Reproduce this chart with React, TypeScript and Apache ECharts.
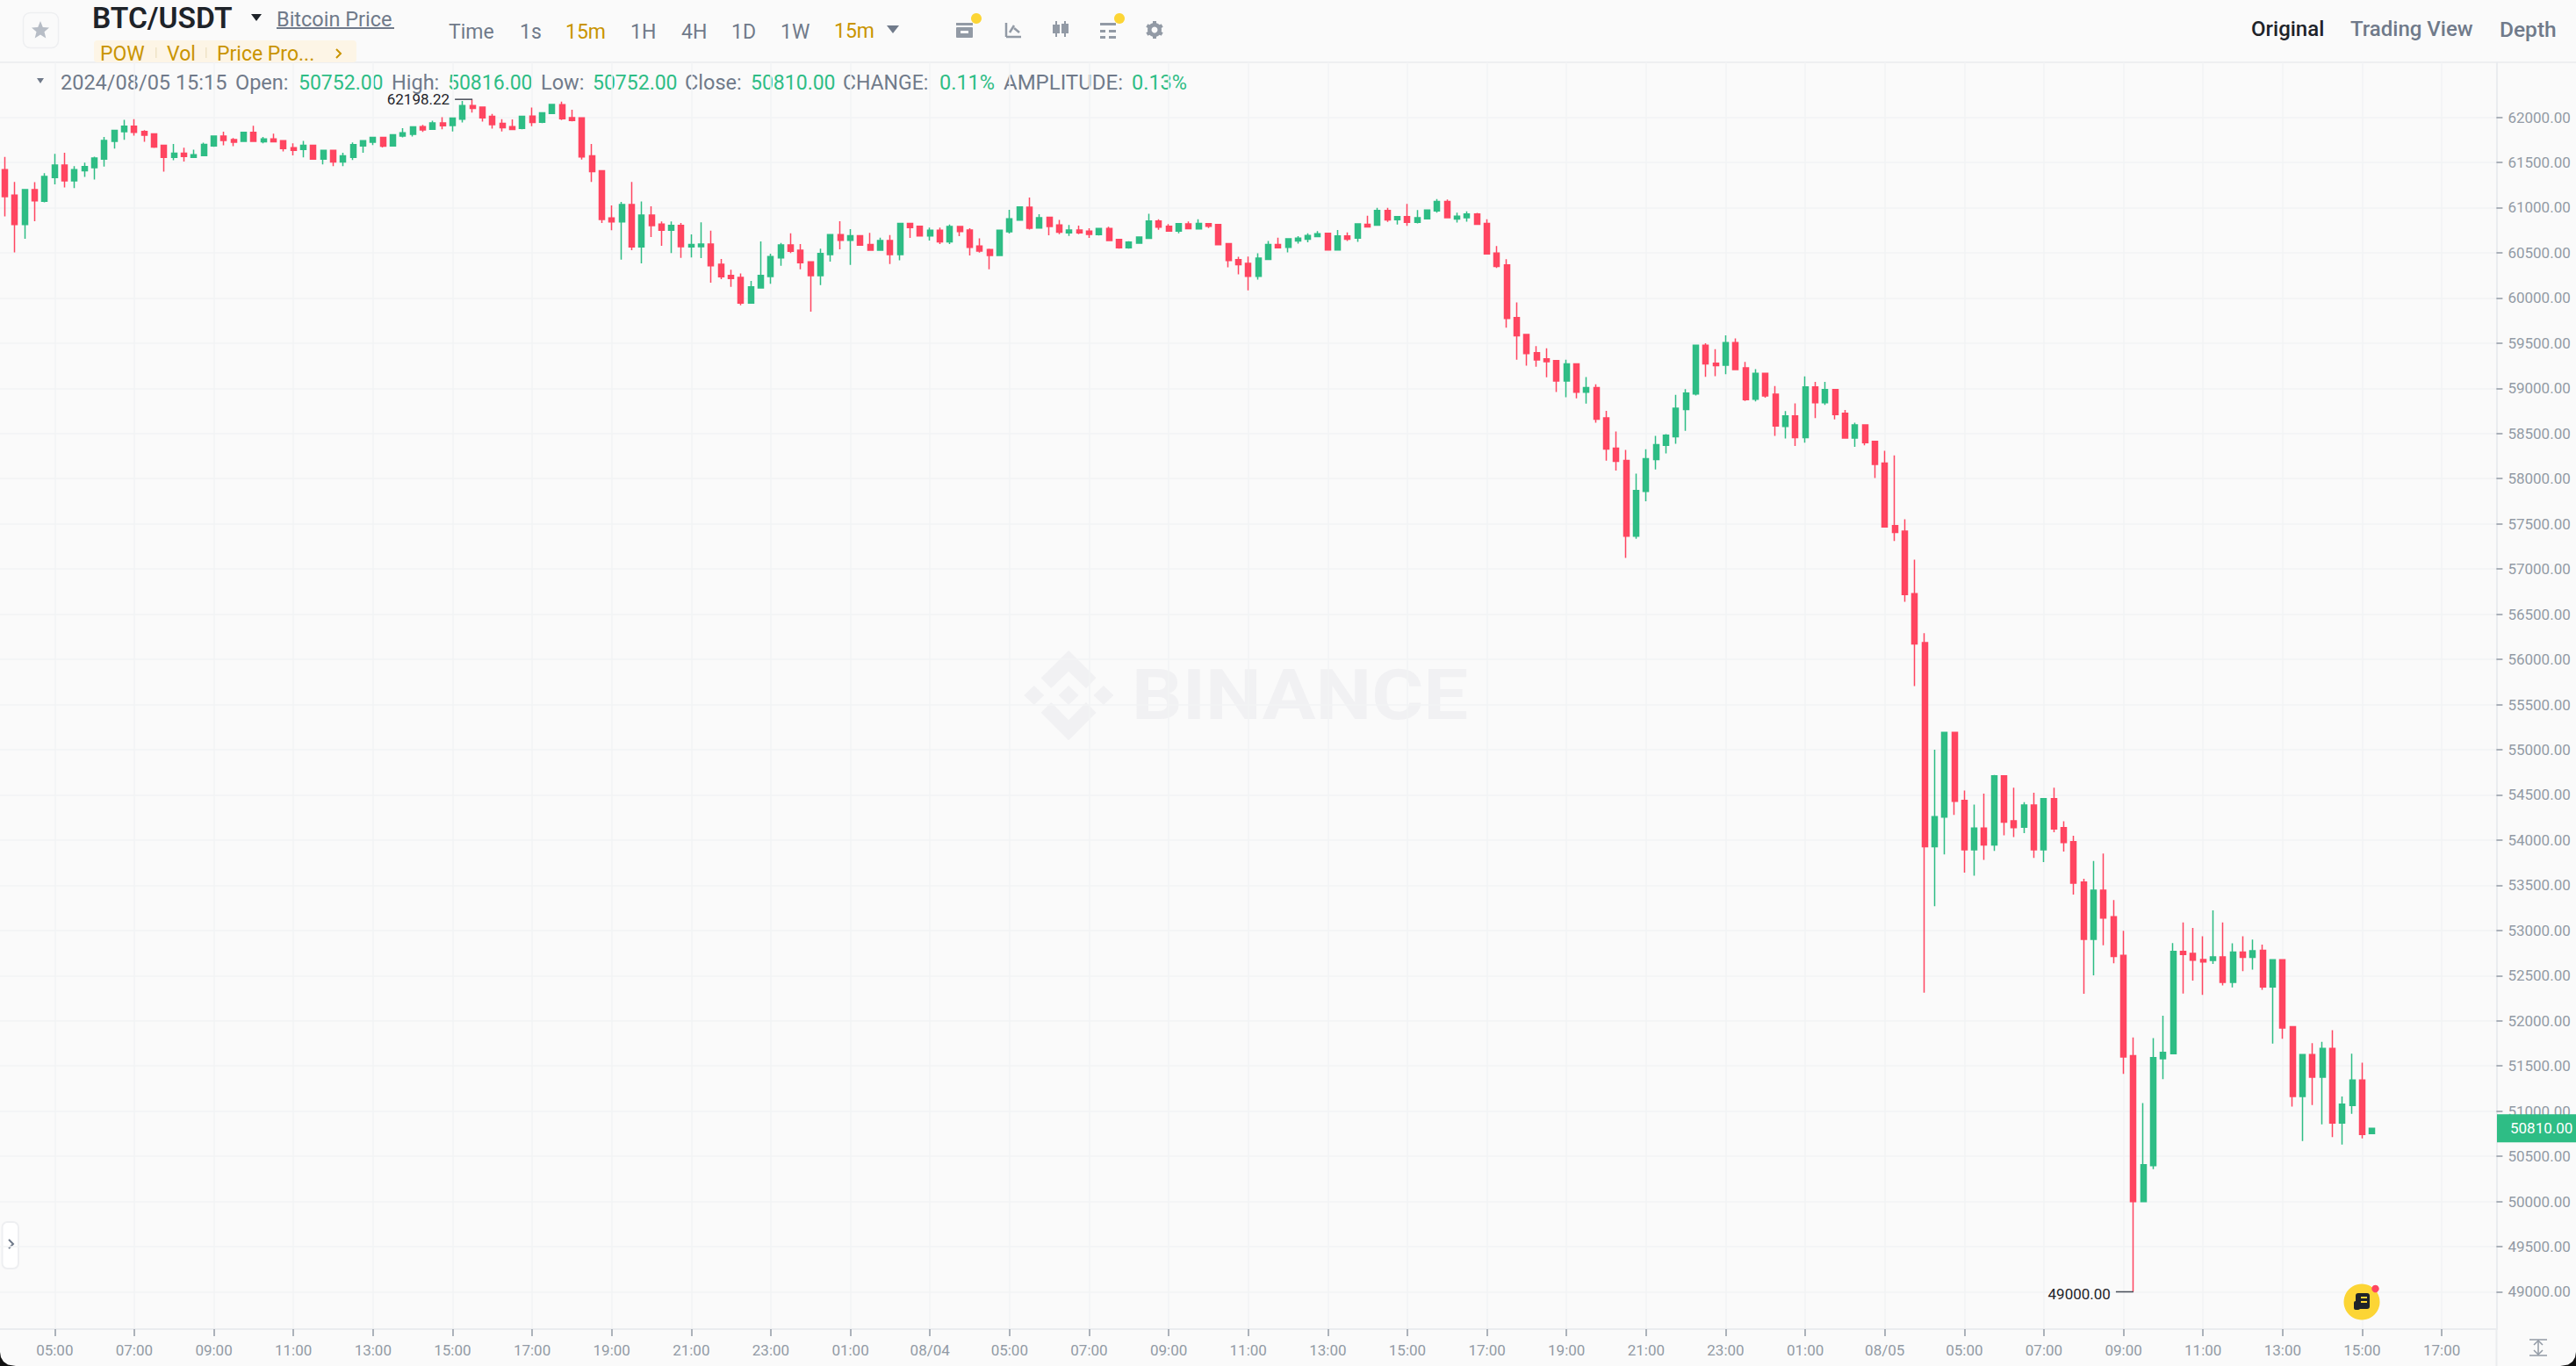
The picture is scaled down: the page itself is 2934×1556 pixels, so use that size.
import React, { useEffect, useRef } from "react";
import * as echarts from "echarts";

const opens = [
  61420,61139,60812,61200,61071,61333,61472,61297,61407,61443,
  61537,61734,61841,61900,61844,61815,61689,61556,61602,61556,
  61576,61683,61793,61754,61734,61832,61728,61760,61741,61663,
  61644,61689,61537,61634,61505,61556,61683,61725,61777,61683,
  61793,61812,61896,61867,61938,61909,61980,62130,62113,62010,
  61932,61896,61877,62013,61945,62042,62139,61997,61994,61573,
  61409,60885,60843,61034,60564,60917,60817,60749,60804,60564,
  60567,60597,60373,60250,60228,59943,60111,60237,60444,60587,
  60529,60399,60247,60480,60700,60639,60690,60593,60529,60635,
  60480,60826,60794,60687,60749,60622,60791,60752,60574,60535,
  60470,60733,60862,61005,60775,60894,60807,60720,60752,60739,
  60700,60768,60648,60555,60606,60661,60852,60794,
  60741,60819,60764,60822,60812,60602,60424,60382,60239,60427,
  60592,60560,60631,60650,60680,60715,60530,60686,60663,60815,
  60806,60968,60867,60900,60838,60877,60964,61068,60874,60887,
  60929,60825,60498,60365,59783,59595,59394,59326,59307,59080,
  59271,58957,59009,58672,58338,58202,57364,57859,58212,58368,
  58465,58766,58937,59478,59277,
  59255,59505,59227,58879,59166,58935,58577,58695,58455,59015,
  58841,58987,58723,58450,58596,58412,58172,57480,57419,56727,
  56186,53926,54255,55192,54439,53893,54133,53945,54712,54213,
  54142,54387,53893,54458,54138,53981,53535,52902,53445,53151,
  52723,51614,49998,50396,51580,51636,52768,52745,52678,52667,
  52708,52425,52760,52701,52779,52373,52675,51934,51163,51625,
  51375,51695,50869,51063,51345,50752,
];
const closes = [
  61122,60812,61200,61074,61346,61472,61297,61420,61453,61550,
  61744,61854,61900,61832,61802,61670,61556,61602,61566,61585,
  61699,61793,61744,61725,61832,61734,61760,61728,61653,61634,
  61689,61537,61634,61505,61573,61696,61741,61777,61679,61806,
  61828,61893,61861,61938,61906,61990,62130,62097,61994,61919,
  61883,61864,62010,61942,62049,62142,61984,61964,61560,61398,
  60869,60843,61034,60564,60917,60801,60749,60804,60567,60593,
  60597,60357,60234,60215,59943,60124,60250,60457,60587,60516,
  60389,60247,60493,60700,60639,60690,60584,60529,60635,60480,
  60826,60778,60687,60749,60622,60791,60736,60561,60519,60470,
  60749,60875,61008,60771,60888,60791,60729,60752,60720,60703,
  60768,60635,60555,60619,60674,60852,60784,60739,
  60822,60767,60825,60793,60589,60414,60369,60239,60440,60592,
  60556,60654,60663,60692,60712,60530,60686,60650,60819,60786,
  60968,60864,60900,60838,60887,60974,61068,60887,60906,60929,
  60815,60488,60349,59773,59582,59384,59313,59294,59080,59271,
  58957,59009,58659,58329,58193,57364,57869,58222,58377,58481,
  58779,58947,59478,59271,59252,
  59505,59208,58874,59166,58916,58582,58695,58455,59015,58841,
  58987,58709,58450,58596,58398,58158,57466,57405,56718,56171,
  53926,54260,55192,54430,53893,54133,53945,54712,54199,54138,
  54387,53893,54458,54124,53973,53523,52902,53445,53136,52712,
  51599,49998,50407,51591,51651,52768,52734,52671,52652,52708,
  52425,52760,52701,52775,52373,52675,51919,51163,51625,51375,
  51695,50869,51077,51345,50742,50810,
];
const lows = [
  60902,60504,60656,60850,61058,61258,61223,61216,61339,61310,
  61453,61653,61751,61796,61728,61660,61398,61524,61511,61553,
  61573,61673,61689,61679,61734,61734,61712,61728,61621,61579,
  61556,61537,61479,61459,61459,61527,61608,61692,61666,61679,
  61777,61786,61838,61864,61867,61844,61942,62052,61951,61874,
  61844,61861,61867,61900,61935,62036,61968,61955,61531,61284,
  60830,60749,60425,60529,60383,60674,60577,60496,60444,60448,
  60441,60169,60208,60124,59920,59943,60108,60156,60357,60496,
  60318,59849,60143,60402,60538,60367,60580,60529,60529,60376,
  60418,60665,60681,60635,60597,60597,60684,60470,60503,60318,
  60467,60713,60859,60758,60771,60694,60707,60687,60707,60665,
  60691,60629,60545,60545,60600,60655,60755,60736,
  60715,60764,60760,60773,60586,60339,60262,60084,60203,60424,
  60556,60505,60602,60615,60676,60527,60527,60631,60621,60780,
  60802,60841,60812,60799,60825,60874,60945,60883,60835,60845,
  60815,60485,60333,59672,59316,59252,59239,59122,58960,58902,
  58889,58831,58620,58199,58089,57124,57335,57749,58102,58280,
  58387,58529,58921,59128,59135,
  59156,59208,58860,58855,58897,58474,58445,58361,58398,58671,
  58817,58657,58450,58351,58370,58008,57466,57311,56638,55705,
  52311,53267,53841,54279,53639,53606,53780,53879,54053,54034,
  54076,53803,53756,54086,53874,53397,52299,52503,52835,52637,
  51412,49000,49998,50359,51353,51636,52302,52444,52287,52630,
  52392,52369,52548,52567,52343,51748,51800,51051,50668,51066,
  50854,50713,50631,50970,50698,50752,
];
const highs = [
  61560,61284,61205,61281,61381,61595,61608,61459,61498,61563,
  61783,61857,61971,61980,61857,61815,61696,61705,61663,61640,
  61718,61799,61841,61770,61835,61906,61783,61819,61741,61712,
  61738,61692,61634,61634,61608,61722,61744,61780,61780,61809,
  61880,61896,61916,61961,62000,61994,62181,62198.22,62113,62036,
  61980,61977,62013,62107,62049,62142,62172,62084,61994,61705,
  61409,61024,61063,61283,61069,61014,60846,60846,60830,60703,
  60836,60746,60431,60312,60270,60189,60626,60490,60610,60716,
  60597,60399,60545,60703,60849,60762,60690,60720,60668,60697,
  60826,60826,60797,60778,60778,60813,60791,60771,60661,60545,
  60749,60975,61008,61111,60927,60898,60865,60807,60801,60771,
  60768,60788,60648,60629,60674,60933,60872,60817,
  60828,60848,60870,60828,60815,60602,60456,60459,60495,60631,
  60666,60657,60683,60715,60741,60722,60751,60725,60825,60909,
  60997,60997,60906,61042,60974,60977,61094,61091,60945,60958,
  60942,60870,60576,60430,59951,59595,59468,59443,59307,59316,
  59271,59125,59044,58750,58523,58319,58057,58325,58474,58494,
  58928,58992,59478,59498,59433,
  59585,59552,59293,59213,59166,59025,58747,58832,59133,59072,
  59072,58987,58761,58620,58596,58412,58309,58257,57551,57104,
  56289,54999,55192,55192,54547,54392,54514,54721,54712,54580,
  54420,54524,54458,54580,54208,54048,53572,53769,53851,53337,
  52995,51815,51089,51807,52057,52861,53088,53028,52935,53222,
  53088,52857,52935,52898,52842,52675,52675,51934,51625,51751,
  51766,51896,51163,51636,51535,50816,
];
const timeTicks = [
  "05:00","07:00","09:00","11:00","13:00","15:00","17:00","19:00","21:00","23:00","01:00","08/04",
  "05:00","07:00","09:00","11:00","13:00","15:00","17:00","19:00","21:00","23:00","01:00","08/05",
  "05:00","07:00","09:00","11:00","13:00","15:00","17:00",
];
const priceTicks = [49000,49500,50000,50500,51000,51500,52000,52500,53000,53500,54000,54500,55000,55500,56000,56500,57000,57500,58000,58500,59000,59500,60000,60500,61000,61500,62000];
const SLOTS = 251;
const HIGH_IDX = 47, HIGH_VAL = 62198.22, LOW_IDX = 214, LOW_VAL = 49000, LAST_IDX = 238, LAST_VAL = 50810;

const isTick = (i: number) => i >= 5 && (i - 5) % 8 === 0;
const categories = Array.from({ length: SLOTS }, (_, i) => (isTick(i) ? timeTicks[(i - 5) / 8] : "c" + i));
const candleData = opens.map((o, i) => [o, closes[i], lows[i], highs[i]]);

const GREEN = "#2EBD85", RED = "#FF4560", GOLD = "#C99400", GRAY = "#707A8A", AXIS = "#929AA5", DARK = "#1E2329", BG = "#FAFAFA";
const FF = "Roboto, 'Noto Sans', sans-serif";

const txt = (x: number, y: number, text: string, fill: string, size: number, weight = 400, align = "left", extra: any = {}) => ({
  type: "text", x, y, silent: true, ...extra,
  style: { text, fill, font: `${weight} ${size}px ${FF}`, align, verticalAlign: "middle", textAlign: align, textVerticalAlign: "middle" },
});
const rect = (x: number, y: number, width: number, height: number, fill: string, r = 0, extra: any = {}) => ({
  type: "rect", shape: { x, y, width, height, r }, style: { fill }, silent: true, ...extra,
});
const poly = (points: number[][], fill: string, z = 0) => ({ type: "polygon", shape: { points }, style: { fill }, silent: true, z });
const lineEl = (x1: number, y1: number, x2: number, y2: number, stroke: string, lineWidth = 1.5) => ({
  type: "line", shape: { x1, y1, x2, y2 }, style: { stroke, lineWidth }, silent: true,
});

const WM = "#F1F1F3";
const watermark = [
  poly([[1217.1,741],[1248.5,772.3],[1237,784],[1217.1,764.7],[1197.2,784],[1185.7,772.3]], WM, -1),
  poly([[1185.7,811.7],[1197.2,800],[1217.1,820.3],[1237,800],[1248.5,811.7],[1217.1,843.3]], WM, -1),
  poly([[1177.7,781],[1189.2,792],[1177.7,803],[1166.2,792]], WM, -1),
  poly([[1217.1,781],[1228.6,792],[1217.1,803],[1205.6,792]], WM, -1),
  poly([[1256.9,781],[1268.4,792],[1256.9,803],[1245.4,792]], WM, -1),
  txt(1289, 792, "BINANCE", WM, 80, 700, "left", { z: -1, scaleX: 1.13 }),
];

const header = [
  rect(0, 70, 2934, 2, "#EEEFF1"),
  { type: "rect", shape: { x: 26.5, y: 14.5, width: 40, height: 40, r: 8 }, style: { fill: BG, stroke: "#EEEFF1", lineWidth: 1.5 }, silent: true },
  poly([[46,24],[48.8,31],[56,31.6],[50.5,36.3],[52.3,43.5],[46,39.6],[39.7,43.5],[41.5,36.3],[36,31.6],[43.2,31]], "#B7BDC6"),
  txt(105, 20, "BTC/USDT", DARK, 33.5, 600),
  poly([[286,16],[298,16],[292,24]], DARK),
  txt(315, 22, "Bitcoin Price", GRAY, 23.5),
  rect(315, 31, 134, 2, GRAY),
  txt(511, 36, "Time", GRAY, 23),
  txt(592, 36, "1s", GRAY, 23),
  txt(644, 36, "15m", GOLD, 23),
  txt(718, 36, "1H", GRAY, 23),
  txt(776, 36, "4H", GRAY, 23),
  txt(833, 36, "1D", GRAY, 23),
  txt(889, 36, "1W", GRAY, 23),
  txt(950, 35, "15m", GOLD, 23),
  poly([[1010,29],[1024,29],[1017,38]], GRAY),
  // toolbar icons
  rect(1089, 26, 19, 3, AXIS), rect(1089, 31, 19, 12, AXIS, 1), rect(1094, 35, 9, 3, BG),
  lineEl(1146, 26, 1146, 42, AXIS, 2.5), lineEl(1146, 42, 1163, 42, AXIS, 2.5), lineEl(1150, 37, 1155, 29, AXIS, 2.5), lineEl(1155, 32, 1161, 37, AXIS, 2.5),
  lineEl(1203, 24, 1203, 42, AXIS, 2), rect(1199, 28, 8, 10, AXIS), lineEl(1213, 24, 1213, 42, AXIS, 2), rect(1209, 27, 8, 11, AXIS),
  rect(1253, 26, 18, 3, AXIS), rect(1253, 34, 6, 3, AXIS), rect(1263, 34, 8, 3, AXIS), rect(1253, 41, 6, 3, AXIS), rect(1263, 41, 8, 3, AXIS),
  lineEl(1315, 24, 1315, 44, AXIS, 4), lineEl(1306.3, 29, 1323.7, 39, AXIS, 4), lineEl(1306.3, 39, 1323.7, 29, AXIS, 4),
  { type: "circle", shape: { cx: 1315, cy: 34, r: 8 }, style: { fill: AXIS }, silent: true },
  { type: "circle", shape: { cx: 1315, cy: 34, r: 3.5 }, style: { fill: BG }, silent: true },
  { type: "circle", shape: { cx: 1112, cy: 21, r: 6 }, style: { fill: "#FCD535" }, silent: true },
  { type: "circle", shape: { cx: 1275, cy: 21, r: 6 }, style: { fill: "#FCD535" }, silent: true },
  // indicators pill
  rect(107, 46, 299, 25, "#FDF5E6", 4),
  txt(114, 61, "POW", GOLD, 23),
  rect(177, 54, 1.5, 12, "#EFE3C6"),
  txt(190, 61, "Vol", GOLD, 23),
  rect(234, 54, 1.5, 12, "#EFE3C6"),
  txt(247, 61, "Price Pro...", GOLD, 23),
  { type: "polyline", shape: { points: [[383,56],[388,61],[383,66]] }, style: { stroke: GOLD, lineWidth: 2, fill: "none" }, silent: true },
  // info line
  poly([[42,89],[50,89],[46,95]], GRAY),
  txt(69, 94, "2024/08/05 15:15", GRAY, 23.5),
  txt(268, 94, "Open:", GRAY, 23.5),
  txt(340, 94, "50752.00", GREEN, 23),
  txt(446, 94, "High:", GRAY, 23.5),
  txt(510, 94, "50816.00", GREEN, 23),
  txt(616, 94, "Low:", GRAY, 23.5),
  txt(675, 94, "50752.00", GREEN, 23),
  txt(780, 94, "Close:", GRAY, 23.5),
  txt(855, 94, "50810.00", GREEN, 23),
  txt(960, 94, "CHANGE:", GRAY, 23),
  txt(1070, 94, "0.11%", GREEN, 23.5),
  txt(1143, 94, "AMPLITUDE:", GRAY, 24),
  txt(1289, 94, "0.13%", GREEN, 23.5),
  // right tabs
  txt(2564, 33, "Original", DARK, 24, 500),
  txt(2677, 33, "Trading View", GRAY, 24, 500),
  txt(2847, 33, "Depth", GRAY, 24.5, 500),
];

const footer = [
  lineEl(2843.5, 1514, 2843.5, 1556, "#EAECEF", 2),
  // left collapse tab
  { type: "rect", shape: { x: 2.5, y: 1392, width: 18.5, height: 53, r: 6 }, style: { fill: "#FFFFFF", stroke: "#EEEFF1", lineWidth: 2 }, silent: true },
  { type: "polyline", shape: { points: [[10,1412],[15,1417],[10,1422]] }, style: { stroke: GRAY, lineWidth: 2, fill: "none" }, silent: true },
  // floating notes button
  { type: "circle", shape: { cx: 2690, cy: 1483, r: 20.5 }, style: { fill: "#FCD535" }, silent: true, z: 10 },
  rect(2683, 1473, 16, 18, DARK, 3, { z: 11 }),
  rect(2681, 1482, 7, 10, DARK, 2, { z: 11 }),
  rect(2689, 1477, 7, 2, "#FCD535", 0, { z: 12 }),
  rect(2689, 1482, 7, 2, "#FCD535", 0, { z: 12 }),
  { type: "circle", shape: { cx: 2705.5, cy: 1468, r: 4.2 }, style: { fill: RED }, silent: true, z: 12 },
  // resize icon
  lineEl(2881, 1526, 2901, 1526, AXIS, 1.5),
  lineEl(2881, 1544, 2901, 1544, AXIS, 1.5),
  lineEl(2891, 1527, 2891, 1543, AXIS, 1.5),
  { type: "polyline", shape: { points: [[2886,1532],[2891,1527],[2896,1532]] }, style: { stroke: AXIS, lineWidth: 1.5, fill: "none" }, silent: true },
  { type: "polyline", shape: { points: [[2886,1538],[2891,1543],[2896,1538]] }, style: { stroke: AXIS, lineWidth: 1.5, fill: "none" }, silent: true },
  // window corners
  poly([[0,1540],[1,1546],[4,1551],[9,1554.5],[18,1556],[0,1556]], "#111111", 20),
  poly([[2934,1540],[2933,1546],[2930,1551],[2925,1554.5],[2916,1556],[2934,1556]], "#111111", 20),
];

const extremeMark = (idx: number, val: number, text: string, dy: number) => ({
  coord: [idx, val],
  symbol: "rect",
  symbolSize: [20, 1.5],
  symbolOffset: [-10, 0],
  itemStyle: { color: "#474D57" },
  label: { show: true, position: "left", distance: 6, offset: [0, dy], formatter: text, color: DARK, fontSize: 17, fontFamily: FF },
});

export default function App() {
  const ref = useRef<HTMLDivElement>(null);
  useEffect(() => {
    const chart = echarts.init(ref.current!, null, { renderer: "svg" });
    chart.setOption({
      animation: false,
      backgroundColor: BG,
      grid: { left: -0.6, top: 71, width: 2844, height: 1443, containLabel: false },
      xAxis: {
        type: "category",
        data: categories,
        boundaryGap: true,
        axisLine: { show: true, lineStyle: { color: "#EAECEF", width: 2 } },
        axisTick: { show: true, interval: (i: number) => isTick(i), alignWithLabel: true, length: 8, lineStyle: { color: AXIS, width: 1.5 } },
        axisLabel: { show: true, interval: (i: number) => isTick(i), color: AXIS, fontSize: 17, fontFamily: FF, margin: 15, hideOverlap: false },
        splitLine: { show: true, interval: (i: number) => isTick(i), alignWithLabel: true, lineStyle: { color: "#F2F3F4", width: 1.5 } },
      },
      yAxis: {
        type: "value",
        position: "right",
        min: 48587,
        max: 62608,
        axisLine: { show: true, lineStyle: { color: "#EAECEF", width: 2 } },
        axisTick: { show: true, length: 7, customValues: priceTicks, lineStyle: { color: AXIS, width: 1.5 } },
        axisLabel: { show: true, customValues: priceTicks, color: AXIS, fontSize: 17, fontFamily: FF, margin: 13, padding: [3, 0, 0, 0], formatter: (v: number) => v.toFixed(2), showMinLabel: true, showMaxLabel: true },
        splitLine: { show: true, lineStyle: { color: "#F2F3F4", width: 1.5 } },
      },
      series: [
        {
          type: "candlestick",
          data: candleData,
          barWidth: 6.5,
          itemStyle: { color: GREEN, color0: RED, borderColor: GREEN, borderColor0: RED, borderWidth: 1.5 },
          markPoint: {
            silent: true,
            data: [extremeMark(HIGH_IDX, HIGH_VAL, "62198.22", 0), extremeMark(LOW_IDX, LOW_VAL, "49000.00", 3)],
          },
        },
      ],
      graphic: { elements: [...watermark, ...header, ...footer] },
    });
    const tagY = chart.convertToPixel({ yAxisIndex: 0 }, LAST_VAL) as number;
    const lastText = closes[LAST_IDX].toFixed(2);
    chart.setOption({
      graphic: {
        elements: [...watermark, ...header, ...footer,
          rect(2844, tagY - 16, 90, 32, GREEN, 0, { z: 15 }),
          txt(2859, tagY, lastText, "#FFFFFF", 17, 400, "left", { z: 16 }),
        ],
      },
    });
    return () => chart.dispose();
  }, []);
  return <div ref={ref} style={{ position: "absolute", left: 0, top: 0, width: 2934, height: 1556 }} />;
}
